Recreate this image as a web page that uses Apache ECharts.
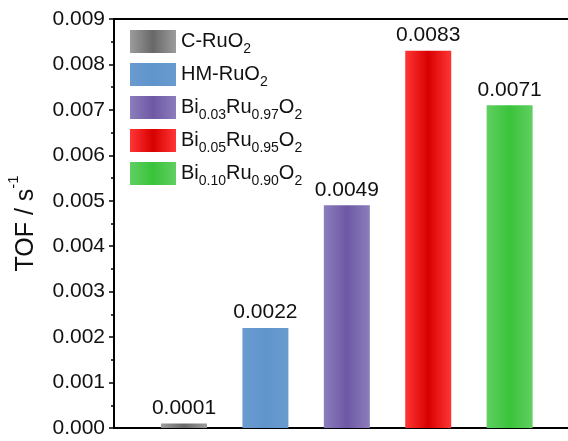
<!DOCTYPE html>
<html>
<head>
<meta charset="utf-8">
<script src="https://cdn.jsdelivr.net/npm/echarts@6/dist/echarts.min.js"></script>
<style>
html,body{margin:0;padding:0;background:#fff;}
#chart{width:568px;height:441px;}
</style>
</head>
<body>
<div id="chart"></div>
<script>
// ---- data ----
const categories = ['C-RuO2', 'HM-RuO2', 'Bi0.03Ru0.97O2', 'Bi0.05Ru0.95O2', 'Bi0.10Ru0.90O2'];
const legendRich = [
  'C-RuO{sub|2}',
  'HM-RuO{sub|2}',
  'Bi{sub|0.03}Ru{sub|0.97}O{sub|2}',
  'Bi{sub|0.05}Ru{sub|0.95}O{sub|2}',
  'Bi{sub|0.10}Ru{sub|0.90}O{sub|2}'
];
const positions = [1, 2, 3, 4, 5];
const tofValues = [0.0001, 0.0022, 0.0049, 0.0083, 0.0071];
const edgeColors = ['#9c9c9c', '#6a9bcf', '#8c7dbb', '#ff3636', '#60cf62'];
const centerColors = ['#686868', '#5f95cc', '#6e58a5', '#d80000', '#3ac33a'];
const yMin = 0, yMax = 0.009, yInterval = 0.001;

const FONT = '"Liberation Sans", Arial, sans-serif';

function grad(i) {
  return {
    type: 'linear', x: 0, y: 0, x2: 1, y2: 0,
    colorStops: [
      { offset: 0, color: edgeColors[i] },
      { offset: 0.5, color: centerColors[i] },
      { offset: 1, color: edgeColors[i] }
    ]
  };
}

const series = categories.map((name, i) => ({
  name: name,
  type: 'bar',
  barWidth: 46,
  barGap: '-100%',
  data: [[positions[i], tofValues[i]]],
  itemStyle: { color: grad(i) },
  label: {
    show: true,
    position: 'top',
    distance: 5,
    color: '#111',
    fontFamily: FONT,
    fontSize: 21,
    formatter: p => p.value[1].toFixed(4)
  },
  emphasis: { disabled: true }
}));

const chart = echarts.init(document.getElementById('chart'), null, { renderer: 'canvas' });
chart.setOption({
  animation: false,
  backgroundColor: '#fff',
  grid: { left: 114, right: 0, top: 19, bottom: 13, containLabel: false, outerBoundsMode: 'none' },
  legend: {
    orient: 'vertical',
    left: 130,
    top: 30,
    padding: 0,
    itemWidth: 46,
    itemHeight: 23,
    itemGap: 7,
    icon: 'rect',
    data: categories,
    formatter: name => legendRich[categories.indexOf(name)],
    textStyle: {
      fontFamily: FONT,
      fontSize: 20,
      color: '#111',
      lineHeight: 23,
      rich: {
        sub: { fontFamily: FONT, fontSize: 14, color: '#111', verticalAlign: 'bottom', lineHeight: 23, padding: [0, 0, -3, 0] }
      }
    }
  },
  xAxis: [
    {
      type: 'value',
      min: 0.14,
      max: 5.717,
      position: 'bottom',
      axisLine: { show: true, onZero: false, lineStyle: { color: '#000', width: 2 } },
      axisTick: { show: false },
      axisLabel: { show: false },
      splitLine: { show: false }
    },
    {
      type: 'value',
      min: 0.14,
      max: 5.717,
      position: 'top',
      axisLine: { show: true, onZero: false, lineStyle: { color: '#000', width: 2 } },
      axisTick: { show: false },
      axisLabel: { show: false },
      splitLine: { show: false }
    }
  ],
  yAxis: {
    type: 'value',
    min: yMin,
    max: yMax,
    interval: yInterval,
    name: 'TOF / s{sup|-1}',
    nameLocation: 'middle',
    nameGap: 74,
    nameTextStyle: {
      fontFamily: FONT,
      fontSize: 25,
      color: '#111',
      lineHeight: 28,
      rich: {
        sup: { fontFamily: FONT, fontSize: 15, color: '#111', verticalAlign: 'top', lineHeight: 28, padding: [-6, 0, 0, 0] }
      }
    },
    axisLine: { show: true, lineStyle: { color: '#000', width: 2 } },
    axisTick: { show: true, length: 5, lineStyle: { color: '#000', width: 1.5 } },
    minorTick: { show: true, splitNumber: 2, length: 3, lineStyle: { color: '#000', width: 1.5 } },
    axisLabel: {
      margin: 9,
      fontFamily: FONT,
      fontSize: 21,
      color: '#111',
      formatter: v => v.toFixed(3)
    },
    splitLine: { show: false }
  },
  series: series
});
</script>
</body>
</html>
